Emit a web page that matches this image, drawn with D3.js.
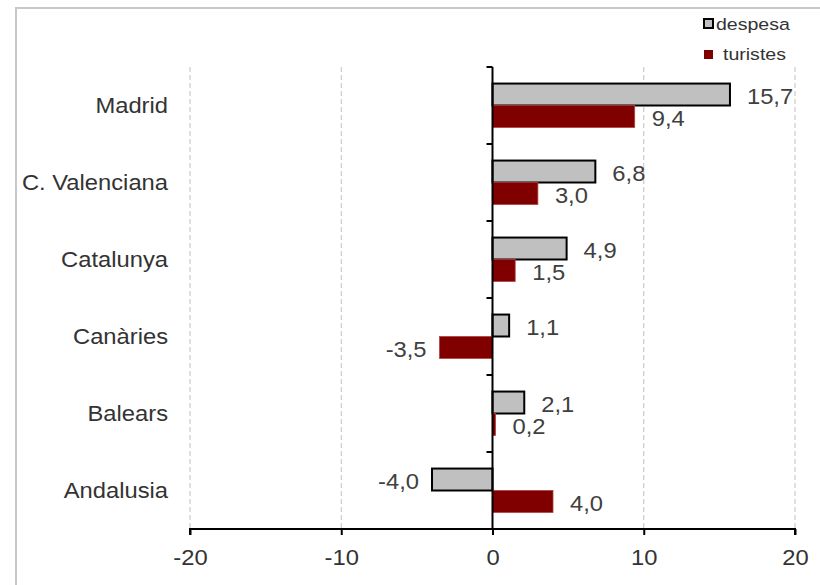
<!DOCTYPE html>
<html>
<head>
<meta charset="utf-8">
<script src="https://cdn.jsdelivr.net/npm/d3@7"></script>
<style>
  body { margin: 0; background: #fff; }
  text { font-family: "Liberation Sans", Arial, sans-serif; }
</style>
</head>
<body>
<script>
(function(d3) {

  var regions = ["Madrid", "C. Valenciana", "Catalunya", "Canàries", "Balears", "Andalusia"];
  var despesa = [15.7, 6.8, 4.9, 1.1, 2.1, -4.0];
  var turistes = [9.4, 3.0, 1.5, -3.5, 0.2, 4.0];
  var xTicks = [-20, -10, 0, 10, 20];

  var svg = d3.select("body").append("svg")
        .attr("width", 820)
        .attr("height", 585),
      margin = {top: 67, right: 25, bottom: 56, left: 190},
      width = 820 - margin.left - margin.right,
      height = 585 - margin.top - margin.bottom,
      g = svg.append("g").attr("transform", "translate(" + margin.left + "," + margin.top + ")");

  var stretch = 1.08;
  var fmt = function(v) { return v.toFixed(1).replace(".", ","); };

  // outer frame
  svg.append("rect")
      .attr("x", 16).attr("y", 8)
      .attr("width", 830).attr("height", 600)
      .attr("fill", "none")
      .attr("stroke", "#c8c8c8")
      .attr("stroke-width", 2);

  var x = d3.scaleLinear()
      .domain([-20, 20])
      .range([0, width]);

  var y = d3.scaleBand()
      .domain(regions)
      .range([0, height])
      .paddingInner(0.43)
      .paddingOuter(0.215);

  var yFull = d3.scaleBand()
      .domain(regions)
      .range([0, height]);

  // dashed grid
  g.append("g")
    .selectAll("line")
    .data(xTicks.filter(function(t) { return t !== 0; }))
    .enter().append("line")
      .attr("x1", function(d) { return x(d); })
      .attr("x2", function(d) { return x(d); })
      .attr("y1", 0)
      .attr("y2", height)
      .attr("stroke", "#c0c0c0")
      .attr("stroke-width", 1)
      .attr("stroke-dasharray", "5,3");

  var bh = y.bandwidth() / 2;

  var rows = g.append("g")
    .selectAll(".row")
    .data(regions)
    .enter().append("g")
      .attr("class", "row")
      .attr("transform", function(d) { return "translate(0," + y(d) + ")"; });

  rows.append("rect")
      .attr("x", function(d, i) { return x(Math.min(0, despesa[i])); })
      .attr("y", 0)
      .attr("width", function(d, i) { return Math.abs(x(despesa[i]) - x(0)); })
      .attr("height", bh)
      .attr("fill", "#c0c0c0")
      .attr("stroke", "#000")
      .attr("stroke-width", 2);

  rows.append("rect")
      .attr("x", function(d, i) { return x(Math.min(0, turistes[i])); })
      .attr("y", bh)
      .attr("width", function(d, i) { return Math.abs(x(turistes[i]) - x(0)); })
      .attr("height", bh)
      .attr("fill", "#800000")
      .attr("stroke", "#b04040")
      .attr("stroke-width", 0.8);

  function valueLabel(sel, vals, off) {
    sel.append("text")
        .attr("transform", function(d, i) {
          var v = vals[i],
              px = v >= 0 ? x(v) + 17 : x(v) - 13;
          return "translate(" + px + "," + (off + 2) + ") scale(" + stretch + ",1)";
        })
        .attr("text-anchor", function(d, i) { return vals[i] >= 0 ? "start" : "end"; })
        .attr("dominant-baseline", "central")
        .attr("font-size", 22)
        .attr("fill", "#404040")
        .text(function(d, i) { return fmt(vals[i]); });
  }
  valueLabel(rows, despesa, bh / 2);
  valueLabel(rows, turistes, bh * 1.5);

  // category labels
  g.append("g")
    .selectAll("text")
    .data(regions)
    .enter().append("text")
      .attr("transform", function(d) {
        return "translate(-22," + (yFull(d) + yFull.bandwidth() / 2) + ") scale(" + stretch + ",1)";
      })
      .attr("text-anchor", "end")
      .attr("dominant-baseline", "central")
      .attr("font-size", 22)
      .attr("fill", "#333")
      .text(function(d) { return d; });

  // vertical axis at zero
  var yAxis = g.append("g")
      .attr("transform", "translate(" + x(0) + ",0)");
  yAxis.append("line")
      .attr("y1", 0).attr("y2", height)
      .attr("stroke", "#000").attr("stroke-width", 2);
  yAxis.selectAll(".tk")
    .data(d3.range(regions.length + 1))
    .enter().append("line")
      .attr("class", "tk")
      .attr("x1", -6).attr("x2", 0)
      .attr("y1", function(d) { return d * yFull.step(); })
      .attr("y2", function(d) { return d * yFull.step(); })
      .attr("stroke", "#000").attr("stroke-width", 2);

  // bottom axis
  var xAxis = d3.axisBottom(x)
      .tickValues(xTicks)
      .tickSize(6)
      .tickFormat(function(d) { return String(d); });
  var xg = g.append("g")
      .attr("transform", "translate(0," + height + ")")
      .call(xAxis);
  xg.select(".domain")
      .attr("d", "M0,6V0H" + width + "V6")
      .attr("stroke", "#000").attr("stroke-width", 2);
  xg.selectAll(".tick line").attr("stroke", "#000").attr("stroke-width", 2);
  xg.selectAll(".tick text")
      .attr("font-family", "Liberation Sans, Arial, sans-serif")
      .attr("font-size", 22)
      .attr("fill", "#333")
      .attr("y", 0)
      .attr("dy", 0)
      .attr("transform", "translate(0,28) scale(" + stretch + ",1)")
      .attr("dominant-baseline", "central");

  // legend
  var legend = svg.append("g").attr("transform", "translate(703,18)");
  legend.append("rect")
      .attr("x", 1).attr("y", 1).attr("width", 9).attr("height", 9)
      .attr("fill", "#c0c0c0").attr("stroke", "#000").attr("stroke-width", 2);
  legend.append("text")
      .attr("transform", "translate(13,6) scale(1.15,1)")
      .attr("dominant-baseline", "central")
      .attr("font-size", 17)
      .attr("fill", "#333")
      .text("despesa");
  legend.append("rect")
      .attr("x", 1).attr("y", 32).attr("width", 9).attr("height", 9)
      .attr("fill", "#800000");
  legend.append("text")
      .attr("transform", "translate(20,36) scale(1.15,1)")
      .attr("dominant-baseline", "central")
      .attr("font-size", 17)
      .attr("fill", "#333")
      .text("turistes");

}(d3));
</script>
</body>
</html>
